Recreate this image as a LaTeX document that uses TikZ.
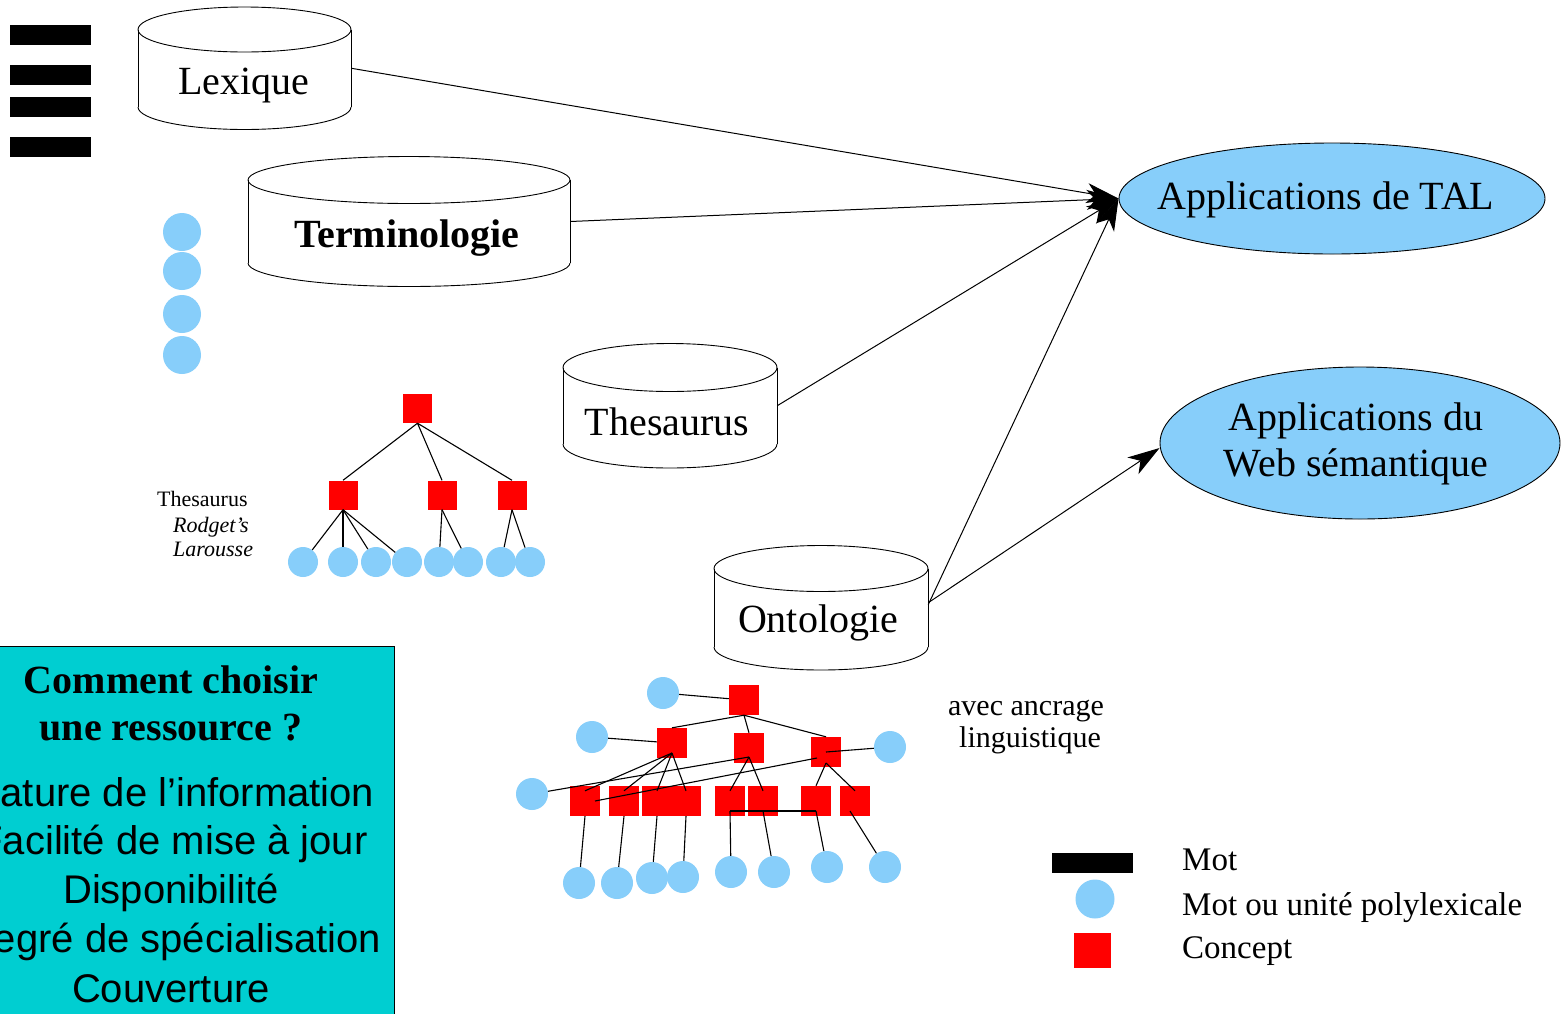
\documentclass[tikz,border=0pt]{standalone}
\usepackage{fontspec}
\setmainfont{Liberation Serif}
\setsansfont{Liberation Sans}
\usetikzlibrary{arrows.meta,shapes.geometric,calc}
\definecolor{wordblue}{RGB}{135,206,250}
\definecolor{boxcyan}{RGB}{0,206,209}
\newcommand{\dbcyl}[6]{%
  \node[cylbody, minimum width={#3-#2}, minimum height={#5-#4}] (#1) at ({(#2+#3)/2},{(#4+#5)/2}) {};
  \draw[cylline] ({(#2+#3)/2},#4) ellipse [x radius={(#3-#2)/2}, y radius=#6];
  \draw[cylline] (#2,#4) -- (#2,#5) (#3,#4) -- (#3,#5);
  \begin{scope}
    \clip (#2-3,#5) rectangle (#3+3,#5+#6+4);
    \draw[cylline] ({(#2+#3)/2},#5) ellipse [x radius={(#3-#2)/2}, y radius=#6];
  \end{scope}}
\begin{document}
\begin{tikzpicture}[x=1pt,y=-1pt,
  cylbody/.style={rectangle, inner sep=0pt},
  cylline/.style={line width=0.9pt},
  word/.style={circle, fill=wordblue, inner sep=0pt, minimum size=#1},
  word/.default=32,
  concept/.style={rectangle, fill=red, inner sep=0pt, minimum size=#1},
  concept/.default=30,
  mot/.style={rectangle, fill=black, inner sep=0pt, minimum width=81, minimum height=20},
  link/.style={line width=1.1pt},
  arr/.style={line width=1pt, -{Stealth[length=32pt,width=20pt,inset=9pt]}},
  appli/.style={ellipse, draw, line width=0.9pt, fill=wordblue, inner sep=0pt},
  applitext/.style={font=\fontsize{40}{46}\selectfont, inner sep=0pt, align=center},
  big/.style={font=\fontsize{40}{46}\selectfont, inner sep=0pt, anchor=base},
  small/.style={font=\fontsize{22}{26}\selectfont, inner sep=0pt, anchor=base west},
  mid/.style={font=\fontsize{30}{34}\selectfont, inner sep=0pt, anchor=base},
  leg/.style={font=\fontsize{33}{38}\selectfont, inner sep=0pt, anchor=base west},
  boxsans/.style={font=\sffamily\fontsize{40}{46}\selectfont, inner sep=0pt, anchor=base}
]
\useasboundingbox[fill=white] (0,0) rectangle (1564,1013);

% black bars (Mot)
\node[mot] (m1) at (50.5,35) {};
\node[mot] (m2) at (50.5,75) {};
\node[mot] (m3) at (50.5,107) {};
\node[mot] (m4) at (50.5,147) {};

% blue column
\node[word=38] (w1) at (182,232) {};
\node[word=38] (w2) at (182,271) {};
\node[word=38] (w3) at (182,314) {};
\node[word=38] (w4) at (182,355) {};

% cylinders
\dbcyl{lex}{138}{351}{29.5}{107}{22.5}
\node[big] (lext) at (244,94) {Lexique};
\dbcyl{ter}{248}{570}{180}{263}{23.5}
\node[big] (tert) at (407,247) {\bfseries Terminologie};
\dbcyl{the}{563}{777}{367.5}{444}{24}
\node[big] (thet) at (667,435) {Thesaurus};
\dbcyl{ont}{714}{928}{568.5}{647}{23}
\node[big] (ontt) at (818,632) {Ontologie};

% application ellipses
\node[appli, minimum width=426, minimum height=111] (tal) at (1332,198.5) {};
\node[applitext] (talt) at (1326,200) {Applications de TAL};
\node[appli, minimum width=400, minimum height=152] (web) at (1360,443) {};
\node[applitext] (webt) at (1356,444) {Applications du\\Web sémantique};

% arrows
\draw[arr] (lex.east) -- (tal.west);
\draw[arr] (ter.east) -- (tal.west);
\draw[arr] (the.east) -- (tal.west);
\draw[arr] ($(ont.east)+(0,-3)$) -- (tal.west);
\draw[arr] ($(ont.east)+(0,-5)$) -- ($(web.west)+(0,5)$);

% thesaurus tree
\node[concept=29] (tR) at (417.5,408.5) {};
\node[concept=29] (tA) at (343,495) {};
\node[concept=29] (tB) at (442,495) {};
\node[concept=29] (tC) at (512,495) {};
\foreach \i/\x in {1/303,2/343,3/376,4/407,5/439,6/468,7/501,8/530}
  \node[word=30] (tl\i) at (\x,562) {};
\draw[link] (tR.south) -- (tA.north) (tR.south) -- (tB.north) (tR.south) -- (tC.north);
\foreach \i in {1,2,3,4} \draw[link] (tA.south) -- (tl\i);
\foreach \i in {5,6} \draw[link] (tB.south) -- (tl\i);
\foreach \i in {7,8} \draw[link] (tC.south) -- (tl\i);
\node[small] (th1) at (157,506) {Thesaurus};
\node[small] (th2) at (173,532) {\itshape Rodget’s};
\node[small] (th3) at (173,556) {\itshape Larousse};

% ontology tree
\node[concept] (oR) at (744,700) {};
\node[concept] (oL) at (672,743) {};
\node[concept] (oM) at (749,748) {};
\node[concept] (oT) at (826,752) {};
\node[word] (oc0) at (663,693) {};
\node[word] (ocL) at (592,737) {};
\node[word] (ocR) at (890,747) {};
\node[word] (ocF) at (532,794) {};
\foreach \i/\x in {1/585,2/624,3/657,4/686,5/730,6/763,7/816,8/855}
  \node[concept] (s\i) at (\x,801) {};
\node[word] (l1) at (579,883) {};
\node[word] (l2) at (617,883) {};
\node[word] (l3) at (652,878) {};
\node[word] (l4) at (683,877) {};
\node[word] (l5) at (731,872) {};
\node[word] (l6) at (774,872) {};
\node[word] (l7) at (827,867) {};
\node[word] (l8) at (885,867) {};

\draw[link] (oc0) -- (oR);
\draw[link] (ocL) -- (oL);
\draw[link] (oT.center) -- (ocR);
\draw[link] (oR.south) -- (oL.north) (oR.south) -- (oM.north) (oR.south) -- (oT.north);
\foreach \i in {1,2,3,4}
  \draw[link] ($(oL.center)+(0,10)$) -- ($(s\i.north)+(0,5)$);
\draw[link] (ocF) -- ($(oM.center)+(0,9)$);
\draw[link] ($(s1.center)+(10,0)$) -- ($(oT.center)+(-9,6)$);
\draw[link] ($(oM.center)+(0,9)$) -- ($(s5.north)+(0,5)$);
\draw[link] ($(oM.center)+(0,9)$) -- ($(s6.north)+(0,5)$);
\draw[link] ($(oT.center)+(0,11)$) -- (s7.north);
\draw[link] ($(oT.center)+(0,11)$) -- ($(s8.north)+(0,5)$);
\draw[link] ($(s5.center)+(0,10)$) -- ($(s7.center)+(0,10)$);
\draw[link] ($(s5.center)+(0,10)$) -- (l5);
\draw[link] ($(s6.center)+(0,10)$) -- (l6);
\draw[link] ($(s7.center)+(0,10)$) -- (l7);
\draw[link] ($(s8.center)+(-5,10)$) -- (l8);
\foreach \i in {1,2,3,4} \draw[link] (s\i.south) -- (l\i);

\node[mid] (anc1) at (1026,715) {avec ancrage};
\node[mid] (anc2) at (1030,747) {linguistique};

% legend
\node[mot] (lgm) at (1092.5,862.5) {};
\node[word=39] (lgw) at (1095,899) {};
\node[concept, minimum width=37, minimum height=35] (lgc) at (1092.5,950) {};
\node[leg] (lgt1) at (1182,870) {Mot};
\node[leg] (lgt2) at (1182,915) {Mot ou unité polylexicale};
\node[leg] (lgt3) at (1182,958) {Concept};

% question box
\node[rectangle, draw, line width=0.9pt, fill=boxcyan, minimum width=420, minimum height=380,
  anchor=north east, inner sep=0pt] (box) at (395,646) {};
\node[big] (q1) at (171,693) {\bfseries Comment choisir};
\node[big] (q2) at (171,740) {\bfseries une ressource ?};
\node[boxsans] (c1) at (173,806) {Nature de l’information};
\node[boxsans] (c2) at (173,854) {Facilité de mise à jour};
\node[boxsans] (c3) at (171,903) {Disponibilité};
\node[boxsans] (c4) at (173,952) {Degré de spécialisation};
\node[boxsans] (c5) at (171,1002) {Couverture};
\end{tikzpicture}
\end{document}
